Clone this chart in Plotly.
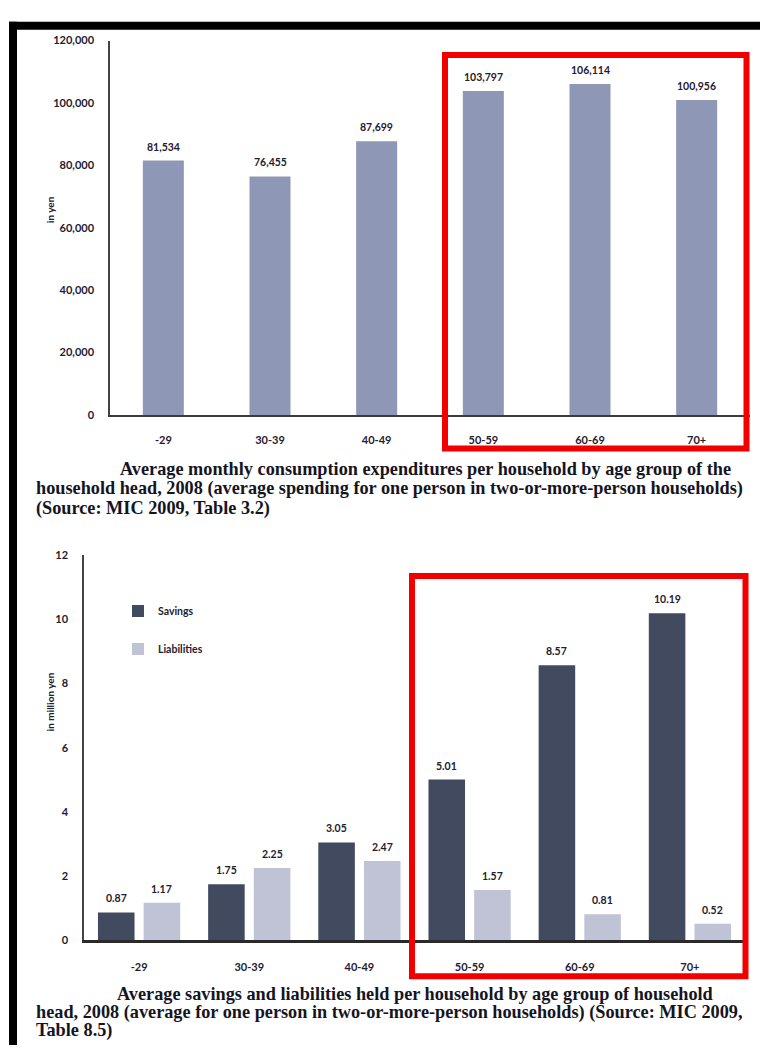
import plotly.graph_objects as go

W, H = 760, 1051

# ---------------- data ----------------
age_groups = ["-29", "30-39", "40-49", "50-59", "60-69", "70+"]
consumption_yen = [81534, 76455, 87699, 103797, 106114, 100956]
savings_myen = [0.87, 1.75, 3.05, 5.01, 8.57, 10.19]
liabilities_myen = [1.17, 2.25, 2.47, 1.57, 0.81, 0.52]
top_yticks = [0, 20000, 40000, 60000, 80000, 100000, 120000]
bottom_yticks = [0, 2, 4, 6, 8, 10, 12]

caption_top = [
    "Average monthly consumption expenditures per household by age group of the",
    "household head, 2008 (average spending for one person in two-or-more-person households)",
    "(Source: MIC 2009, Table 3.2)",
]
caption_bottom = [
    "Average savings and liabilities held per household by age group of household",
    "head, 2008 (average for one person in two-or-more-person households) (Source: MIC 2009,",
    "Table 8.5)",
]


def px(x):
    return x / W


def py(y):
    return 1 - y / H


LABEL_FONT = dict(family="Lato", size=10.5, color="#1e2030", weight="bold")
TICK_FONT = dict(family="Lato", size=11, color="#1e2030", weight="bold")
CAP_FONT = dict(family="Liberation Serif", size=18.25, color="#15151f", weight="bold")

# geometry of bars in category units
TOP_BAR_W = 41.0 / 106.67
BOT_BAR_W = 36.5 / 110.0
BOT_HALF = 22.8 / 110.0

fig = go.Figure()

# top chart
fig.add_trace(go.Bar(
    x=age_groups, y=consumption_yen, marker=dict(color="#8e97b6", line=dict(width=0)),
    width=TOP_BAR_W, xaxis="x", yaxis="y", showlegend=False,
))

# bottom chart
fig.add_trace(go.Bar(
    x=age_groups, y=savings_myen, name="Savings",
    marker=dict(color="#414a5f", line=dict(width=0)),
    width=BOT_BAR_W, offset=-BOT_HALF - BOT_BAR_W / 2,
    xaxis="x2", yaxis="y2", legendgroup="s",
))
fig.add_trace(go.Bar(
    x=age_groups, y=liabilities_myen, name="Liabilities",
    marker=dict(color="#c0c3d6", line=dict(width=0)),
    width=BOT_BAR_W, offset=BOT_HALF - BOT_BAR_W / 2,
    xaxis="x2", yaxis="y2", legendgroup="l",
))

annotations = []
# value labels, top
for i, v in enumerate(consumption_yen):
    annotations.append(dict(
        x=i, y=v, xref="x", yref="y", text=f"{v:,}", showarrow=False,
        yanchor="bottom", yshift=6, font=LABEL_FONT,
    ))
# value labels, bottom
for i, v in enumerate(savings_myen):
    annotations.append(dict(
        x=i - BOT_HALF, y=v, xref="x2", yref="y2", text=f"{v:.2f}", showarrow=False,
        yanchor="bottom", yshift=6, font=LABEL_FONT,
    ))
for i, v in enumerate(liabilities_myen):
    annotations.append(dict(
        x=i + BOT_HALF, y=v, xref="x2", yref="y2", text=f"{v:.2f}", showarrow=False,
        yanchor="bottom", yshift=6, font=LABEL_FONT,
    ))

# y-axis titles
annotations.append(dict(
    x=px(42), y=py(190), xref="paper", yref="paper", text="in yen", textangle=-90,
    showarrow=False, font=dict(family="Lato", size=10, color="#1e2030", weight="bold"),
))
annotations.append(dict(
    x=px(42), y=py(736), xref="paper", yref="paper", text="in million yen", textangle=-90,
    showarrow=False, font=dict(family="Lato", size=10, color="#1e2030", weight="bold"),
))

# captions
cap_top_pos = [(118, 468), (34, 488), (34, 508)]
for t, (x, y) in zip(caption_top, cap_top_pos):
    annotations.append(dict(
        x=px(x), y=py(y), xref="paper", yref="paper", text=t, showarrow=False,
        xanchor="left", yanchor="middle", font=CAP_FONT,
    ))
cap_bot_pos = [(115, 999), (34, 1018), (34, 1036)]
for t, (x, y) in zip(caption_bottom, cap_bot_pos):
    annotations.append(dict(
        x=px(x), y=py(y), xref="paper", yref="paper", text=t, showarrow=False,
        xanchor="left", yanchor="middle", font=CAP_FONT,
    ))

shapes = [
    # black frame (top and left edges)
    dict(type="rect", xref="paper", yref="paper", x0=px(9), x1=px(760), y0=py(15), y1=py(23),
         fillcolor="black", line=dict(width=0), layer="above"),
    dict(type="rect", xref="paper", yref="paper", x0=px(9), x1=px(17), y0=py(15), y1=py(1051),
         fillcolor="black", line=dict(width=0), layer="above"),
    # red highlight boxes
    dict(type="rect", xref="paper", yref="paper", x0=px(445), x1=px(746.5), y0=py(48.5), y1=py(447),
         line=dict(color="#f20000", width=6), fillcolor="rgba(0,0,0,0)", layer="above"),
    dict(type="rect", xref="paper", yref="paper", x0=px(412), x1=px(745.5), y0=py(576), y1=py(981.5),
         line=dict(color="#f20000", width=6), fillcolor="rgba(0,0,0,0)", layer="above"),
]

axis_common = dict(showgrid=False, zeroline=False, ticks="", fixedrange=True)

fig.update_layout(
    width=W, height=H, margin=dict(l=0, r=0, t=0, b=0),
    paper_bgcolor="white", plot_bgcolor="white",
    barmode="group",
    font=dict(family="Lato", color="#1e2030"),
    xaxis=dict(domain=[px(110), px(750)], anchor="y", type="category",
               categoryorder="array", categoryarray=age_groups, range=[-0.5, 5.5],
               showline=True, linecolor="#3a3a3a", linewidth=2,
               tickfont=TICK_FONT, ticklabelstandoff=14, **axis_common),
    yaxis=dict(domain=[py(413), py(34)], anchor="x", range=[0, 120000],
               tickvals=top_yticks, tickformat=",",
               showline=True, linecolor="#444444", linewidth=1.5,
               tickfont=TICK_FONT, ticklabelstandoff=12, **axis_common),
    xaxis2=dict(domain=[px(84), px(745)], anchor="y2", type="category",
                categoryorder="array", categoryarray=age_groups, range=[-0.5, 5.5],
                showline=True, linecolor="#2a2a2a", linewidth=2.5,
                tickfont=TICK_FONT, ticklabelstandoff=15, **axis_common),
    yaxis2=dict(domain=[py(945), py(555)], anchor="x2", range=[0, 12],
                tickvals=bottom_yticks,
                showline=True, linecolor="#444444", linewidth=1.5,
                tickfont=TICK_FONT, ticklabelstandoff=12, **axis_common),
    legend=dict(x=px(118), y=py(597), xanchor="left", yanchor="top",
                font=dict(family="Lato", size=10.5, color="#1e2030", weight="bold"),
                bgcolor="rgba(0,0,0,0)", tracegroupgap=19, itemwidth=30),
    annotations=annotations,
    shapes=shapes,
)

fig.write_html("out.html")
